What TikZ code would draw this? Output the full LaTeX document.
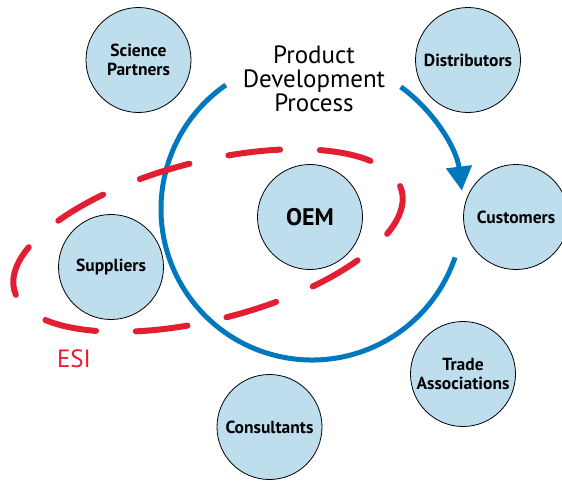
\documentclass[tikz,border=0pt]{standalone}
\usepackage{fontspec}
\setmainfont{PT Sans}
\usetikzlibrary{arrows.meta}
\definecolor{pdblue}{RGB}{0,120,190}
\definecolor{esired}{RGB}{227,30,50}
\definecolor{actorfill}{RGB}{190,222,238}
\tikzset{
  actor/.style={circle, draw=black, line width=0.8pt, fill=actorfill, minimum size=105pt, inner sep=0pt, align=center, font=\fontsize{17.5}{19}\selectfont\bfseries},
  bigtext/.style={align=center, font=\fontsize{25}{24}\selectfont}
}
\begin{document}
\begin{tikzpicture}[x=1pt,y=1pt]
\useasboundingbox (0,0) rectangle (562,-480);
% product development loop
\coordinate (pdp) at (312,-209);
\draw[pdblue, line width=5pt] (pdp) ++(124.8:151) arc (124.8:341.3:151);
\draw[pdblue, line width=5pt, -{Triangle[width=25pt,length=24pt]}] (pdp) ++(54:151) arc (54:7:151);
% early supplier involvement
\coordinate (esic) at (208,-240.5);
\draw[esired, line width=6pt, line cap=round, dash pattern=on 52pt off 39.8pt, dash phase=47pt, rotate around={14.4:(esic)}] (esic) ellipse [x radius=200, y radius=79];
% partners
\node[actor] (science) at (138.5,-60) {Science\\Partners};
\node[actor] (distributors) at (468,-60) {Distributors};
\node[actor] (customers) at (516,-217) {Customers};
\node[actor, font=\fontsize{24}{26}\selectfont\bfseries] (oem) at (310,-217) {OEM};
\node[actor] (suppliers) at (111,-267) {Suppliers};
\node[actor] (trade) at (463,-374) {Trade\\Associations};
\node[actor] (consultants) at (269.5,-427) {Consultants};
% labels
\node[bigtext] (pdplabel) at (314,-78.5) {Product\\Development\\Process};
\node[bigtext, text=esired] (esi) at (74,-358.5) {ESI};
\end{tikzpicture}
\end{document}
